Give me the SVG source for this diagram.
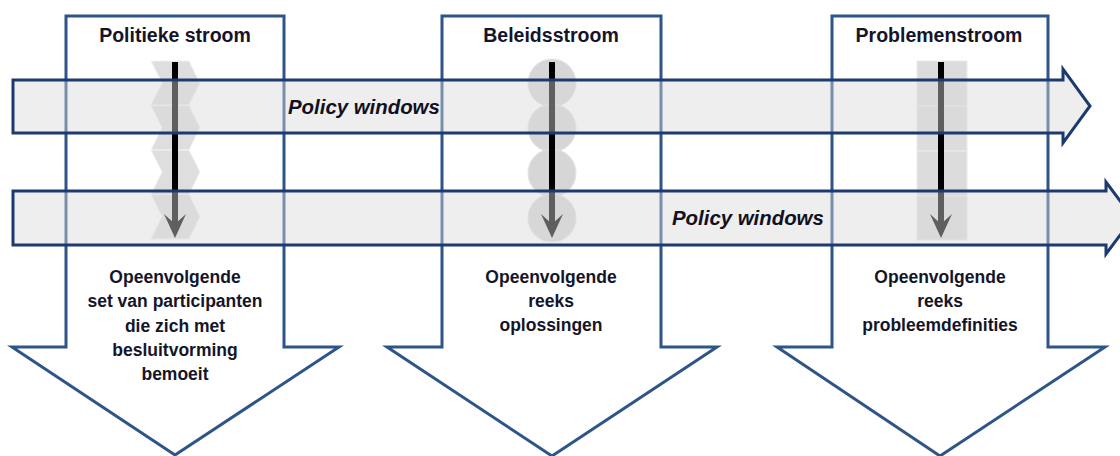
<svg xmlns="http://www.w3.org/2000/svg" width="1120" height="456" viewBox="0 0 1120 456">
<style>
.stream{fill:#ffffff;stroke:#2f5488;stroke-width:3;stroke-linejoin:miter}
.window{fill:#d9d9d9;fill-opacity:0.44;stroke:#1c3a70;stroke-width:3;stroke-linejoin:miter}
.title{font-family:"Liberation Sans",Arial,sans-serif;font-weight:bold;font-size:19.5px;fill:#15152a;text-anchor:middle}
.body{font-family:"Liberation Sans",Arial,sans-serif;font-weight:bold;font-size:17.5px;fill:#15152a;text-anchor:middle}
.pw{font-family:"Liberation Sans",Arial,sans-serif;font-weight:bold;font-style:italic;font-size:20.4px;fill:#111122}
.chev{fill:#dedede;stroke:#f2f2f2;stroke-width:1}
.circ{fill:#d6d6d6;stroke:#e4e4e4;stroke-width:1}
.blk{fill:#dcdcdc;stroke:#ebebeb;stroke-width:1}
.shaft{stroke:#000;stroke-width:6;fill:none}
.head{fill:#000}
</style>

<g id="stream-politiek">
<polygon class="stream" points="66,16 284,16 284,347 339,347 175,455 12,347 66,347"/>
</g>
<g id="stream-beleid">
<polygon class="stream" points="442,16 661,16 661,347 717,347 552,456 387,347 442,347"/>
</g>
<g id="stream-problemen">
<polygon class="stream" points="832,16 1048,16 1048,347 1105,347 940,456 777,347 832,347"/>
</g>

<g id="sequence-shapes">
<g id="chevrons">
<polygon class="chev" points="151,61 189,61 200,83 189,105 151,105 162,83"/>
<polygon class="chev" points="151,105.5 189,105.5 200,127.5 189,150 151,150 162,127.5"/>
<polygon class="chev" points="151,150 189,150 200,172 189,194.5 151,194.5 162,172"/>
<polygon class="chev" points="151,194.5 189,194.5 200,216.5 189,239 151,239 162,216.5"/>
</g>
<g id="circles">
<circle class="circ" cx="552" cy="83" r="24"/>
<circle class="circ" cx="552" cy="128" r="24"/>
<circle class="circ" cx="552" cy="173" r="24"/>
<circle class="circ" cx="552" cy="218" r="24"/>
</g>
<g id="blocks">
<rect class="blk" x="917" y="61" width="50" height="45"/>
<rect class="blk" x="917" y="106" width="50" height="45"/>
<rect class="blk" x="917" y="151" width="50" height="45"/>
<rect class="blk" x="917" y="196" width="50" height="44"/>
</g>
</g>

<g id="connectors">
<line class="shaft" x1="175" y1="62" x2="175" y2="226"/>
<polygon class="head" points="164,214 175,224 186,214 175,238"/>
<line class="shaft" x1="552" y1="62" x2="552" y2="226"/>
<polygon class="head" points="541,214 552,224 563,214 552,238"/>
<line class="shaft" x1="941" y1="62" x2="941" y2="226"/>
<polygon class="head" points="930,214 941,224 952,214 941,238"/>
</g>

<g id="window-1">
<polygon class="window" points="13,80 1063,80 1063,69 1090,106 1063,143 1063,133 13,133"/>
<text class="pw" x="288" y="114">Policy windows</text>
</g>
<g id="window-2">
<polygon class="window" points="13,191 1106,191 1106,182 1133,218 1106,254 1106,245 13,245"/>
<text class="pw" x="672" y="225">Policy windows</text>
</g>

<g id="labels-politiek">
<text class="title" x="175" y="42">Politieke stroom</text>
<text class="body" x="175" y="283">Opeenvolgende</text>
<text class="body" x="175" y="307">set van participanten</text>
<text class="body" x="175" y="331.5">die zich met</text>
<text class="body" x="175" y="355.5">besluitvorming</text>
<text class="body" x="175" y="380">bemoeit</text>
</g>
<g id="labels-beleid">
<text class="title" x="551" y="42">Beleidsstroom</text>
<text class="body" x="551" y="283">Opeenvolgende</text>
<text class="body" x="551" y="307">reeks</text>
<text class="body" x="551" y="331">oplossingen</text>
</g>
<g id="labels-problemen">
<text class="title" x="939" y="42">Problemenstroom</text>
<text class="body" x="940" y="283">Opeenvolgende</text>
<text class="body" x="940" y="307">reeks</text>
<text class="body" x="940" y="331">probleemdefinities</text>
</g>
</svg>
